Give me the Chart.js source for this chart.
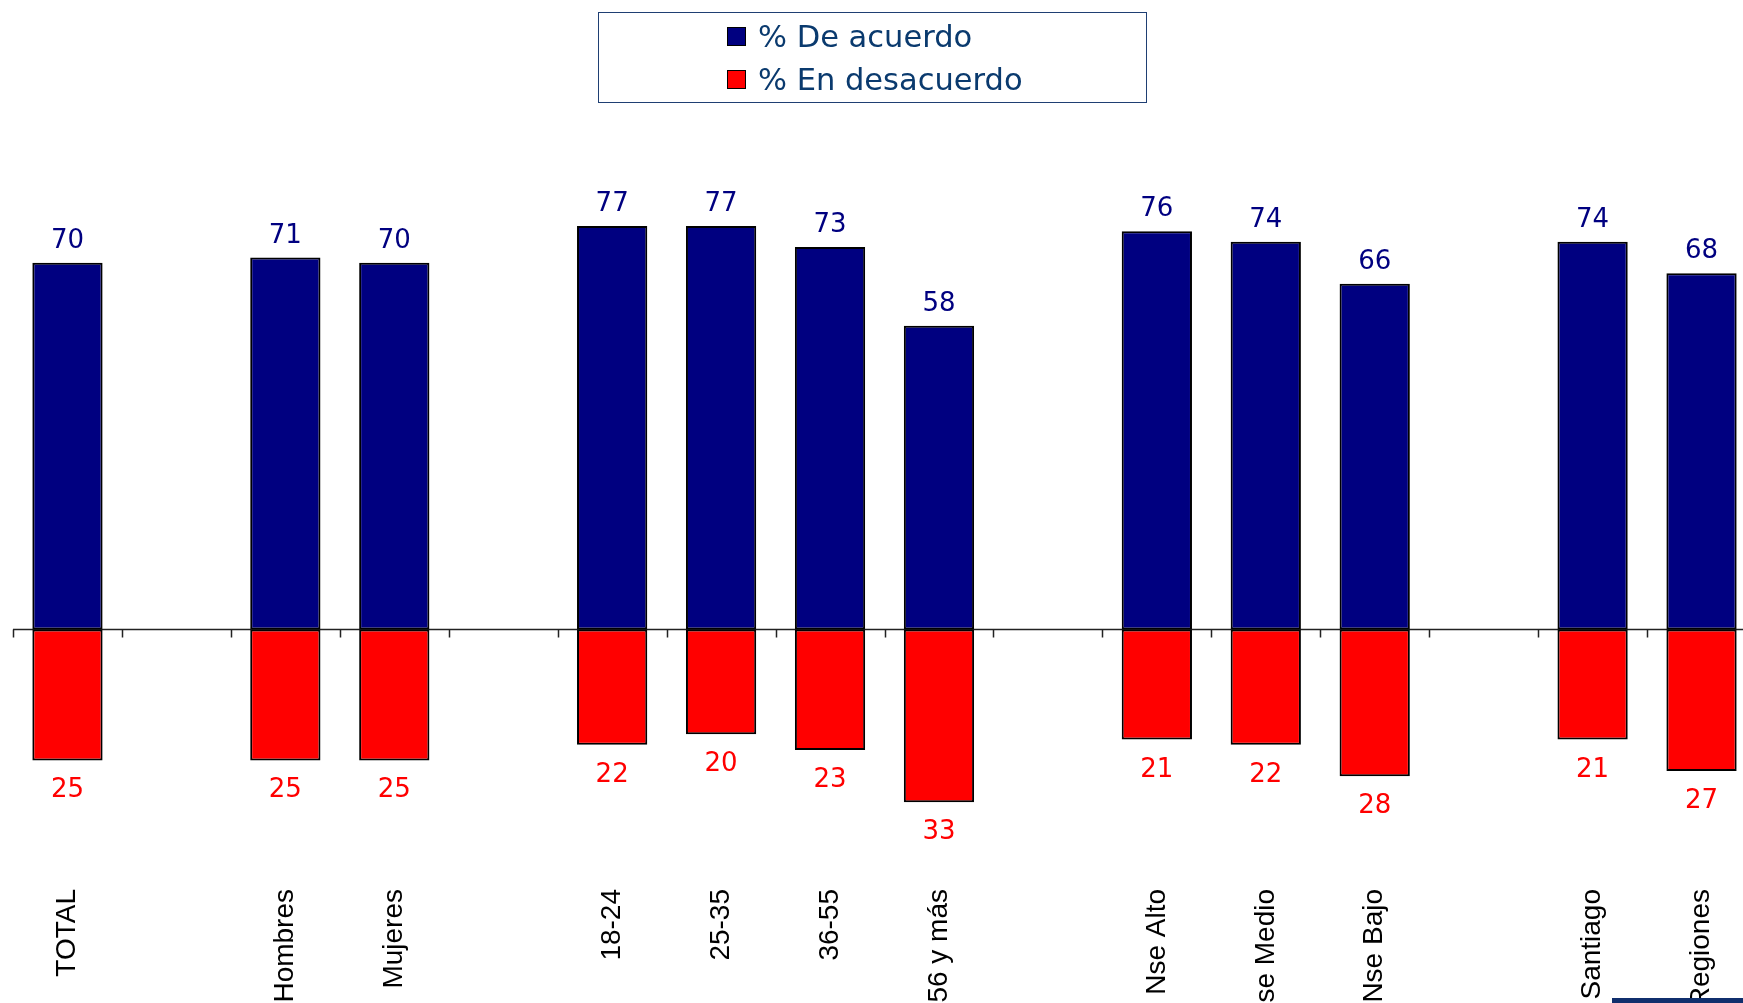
<!DOCTYPE html>
<html>
<head>
<meta charset="utf-8">
<script src="https://cdn.jsdelivr.net/npm/chart.js@4/dist/chart.umd.min.js"></script>
<style>
  html, body { margin: 0; padding: 0; background: #ffffff; overflow: hidden; width: 1743px; height: 1003px; }
  #wrap { position: relative; width: 1743px; height: 1003px; overflow: hidden; }
  #chart { position: absolute; left: 0; top: 0; }
  #legend {
    position: absolute; left: 598px; top: 12px; width: 547px; height: 89px;
    border: 1.5px solid #1f3f73; box-sizing: content-box;
    font-family: "DejaVu Sans", sans-serif; font-size: 30.5px; color: #0a3a6e;
  }
  .item { position: absolute; left: 128px; height: 34px; display: flex; align-items: center; white-space: nowrap; }
  .swatch { width: 17px; height: 17px; border: 1.5px solid #000; margin-right: 12px; flex: none; }
  #footbar { position: absolute; left: 1612px; top: 998px; width: 131px; height: 5px; background: #102f6d; }
</style>
</head>
<body>
<div id="wrap">
  <canvas id="chart" width="1760" height="1003"></canvas>
  <div id="legend"></div>
  <div id="footbar"></div>
</div>
<script>
// Segments, with empty slots separating the groups
const categories = ['TOTAL', '', 'Hombres', 'Mujeres', '', '18-24', '25-35', '36-55', '56 y más', '',
                    'Nse Alto', 'Nse Medio', 'Nse Bajo', '', 'Santiago', 'Regiones'];
const deAcuerdo    = [70, null, 71, 70, null, 77, 77, 73, 58, null, 76, 74, 66, null, 74, 68];
const enDesacuerdo = [25, null, 25, 25, null, 22, 20, 23, 33, null, 21, 22, 28, null, 21, 27];
const seriesNames  = ['% De acuerdo', '% En desacuerdo'];
const seriesColors = ['#000080', '#ff0000'];

// Value labels above the positive bars and below the negative ones
const valueLabels = {
  id: 'valueLabels',
  afterDatasetsDraw(chart) {
    const ctx = chart.ctx;
    ctx.save();
    ctx.font = '26px "DejaVu Sans", sans-serif';
    ctx.textAlign = 'center';
    ctx.textBaseline = 'alphabetic';
    chart.data.datasets.forEach((ds, di) => {
      const meta = chart.getDatasetMeta(di);
      meta.data.forEach((bar, i) => {
        const v = ds.data[i];
        if (v === null || v === undefined) return;
        ctx.fillStyle = seriesColors[di];
        const txt = String(Math.abs(v));
        if (v >= 0) ctx.fillText(txt, bar.x, bar.y - 15);
        else ctx.fillText(txt, bar.x, bar.y + 37);
      });
    });
    ctx.restore();
  }
};

// Zero line with small tick marks at the slot boundaries
const zeroAxis = {
  id: 'zeroAxis',
  beforeDatasetsDraw(chart) {
    const { ctx, scales: { x, y } } = chart;
    const y0 = Math.round(y.getPixelForValue(0)) + 0.5;
    const step = x.getPixelForValue(1) - x.getPixelForValue(0);
    ctx.save();
    ctx.strokeStyle = '#222222';
    ctx.lineWidth = 1.5;
    ctx.beginPath();
    const left = x.getPixelForValue(0) - step / 2;
    ctx.moveTo(left, y0);
    ctx.lineTo(chart.width, y0);
    for (let i = 0; i <= categories.length; i++) {
      const px = Math.round(x.getPixelForValue(i) - step / 2) + 0.5;
      ctx.moveTo(px, y0);
      ctx.lineTo(px, y0 + 8);
    }
    ctx.stroke();
    ctx.restore();
  }
};

const chart = new Chart(document.getElementById('chart'), {
  type: 'bar',
  data: {
    labels: categories,
    datasets: [
      { label: seriesNames[0], data: deAcuerdo, backgroundColor: seriesColors[0],
        borderColor: '#000000', borderWidth: 2, borderSkipped: false },
      { label: seriesNames[1], data: enDesacuerdo.map(v => v === null ? null : -v), backgroundColor: seriesColors[1],
        borderColor: '#000000', borderWidth: 2, borderSkipped: false }
    ]
  },
  options: {
    responsive: false,
    animation: false,
    layout: { padding: { left: 13, right: 4, top: 158, bottom: 0 } },
    datasets: { bar: { barPercentage: 0.645, categoryPercentage: 1 } },
    plugins: { legend: { display: false }, tooltip: { enabled: false } },
    scales: {
      x: {
        stacked: true,
        grid: { display: false, drawTicks: false },
        border: { display: false },
        ticks: {
          autoSkip: false, minRotation: 90, maxRotation: 90, padding: 29,
          color: '#000000', font: { family: '"Liberation Sans", Arial, sans-serif', size: 28 }
        },
        afterFit(scale) {
          scale.height = 143;
          // labels may run past the edges; keep the plot area fixed
          scale.paddingLeft = 0;
          scale.paddingRight = 0;
        }
      },
      y: {
        display: false, stacked: true, min: -44, max: 90
      }
    }
  },
  plugins: [zeroAxis, valueLabels]
});

// Legend box built from the chart's datasets
const legend = document.getElementById('legend');
chart.data.datasets.forEach((ds, i) => {
  const item = document.createElement('div');
  item.className = 'item';
  item.style.top = (6 + i * 43) + 'px';
  const sw = document.createElement('span');
  sw.className = 'swatch';
  sw.style.background = ds.backgroundColor;
  const t = document.createElement('span');
  t.textContent = ds.label;
  item.appendChild(sw);
  item.appendChild(t);
  legend.appendChild(item);
});
</script>
</body>
</html>
